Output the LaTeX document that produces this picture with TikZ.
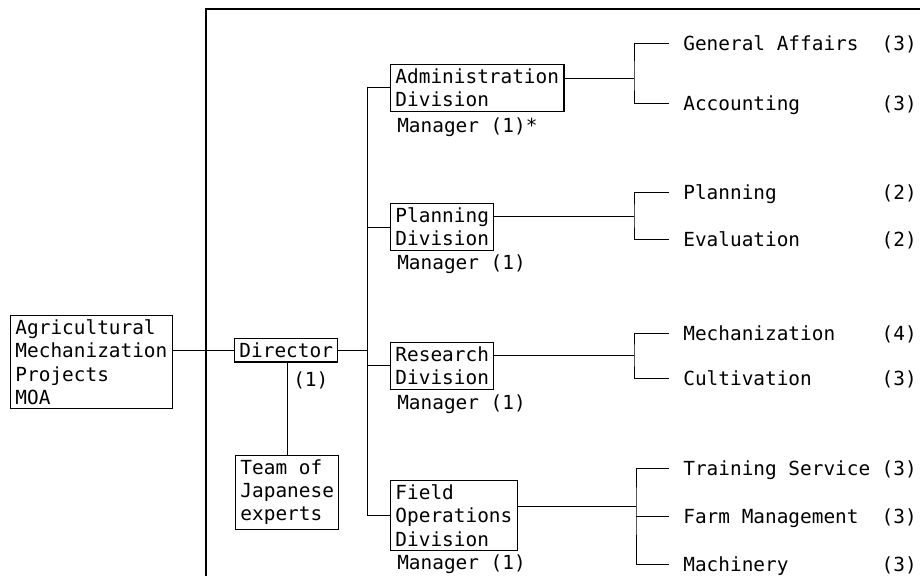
\documentclass[tikz,border=0pt]{standalone}
\usepackage{fontspec}
\newfontfamily\orgfont{DejaVu Sans Mono}
\begin{document}
\begin{tikzpicture}[x=0.025cm,y=-0.025cm,
  every node/.style={font=\orgfont\fontsize{13.8pt}{16.5pt}\selectfont},
  box/.style={draw,line width=0.8pt,align=left,anchor=north west,inner xsep=3.5pt,inner ysep=3pt},
  unit/.style={anchor=west,inner sep=0pt,text height=10pt,text depth=0pt},
  subunit/.style={unit,inner xsep=10pt},
  link/.style={line width=0.6pt}]
  \useasboundingbox (0,0) rectangle (920,576);
  % frame
  \draw[line width=1pt] (206,576) -- (206,9) -- (920,9);
  % boxes
  \node[box] (moa) at (10,315) {Agricultural\\Mechanization\\Projects\\MOA};
  \node[box] (dir) at (234,338) {Director};
  \node[unit] (dirn) at (293,379) {(1)};
  \node[box] (team) at (235,455) {Team of\\Japanese\\experts};
  \node[box] (adm) at (390,64) {Administration\\Division};
  \node[box] (pln) at (390,203) {Planning\\Division};
  \node[box] (res) at (390,342) {Research\\Division};
  \node[box] (fld) at (390,480) {Field\\Operations\\Division};
  \foreach \nm/\y/\t in {adm/125/Manager (1)*,pln/262/Manager (1),res/402/Manager (1),fld/562/Manager (1)}
    \node[unit] (\nm m) at (397,\y) {\t};
  % sections
  \foreach \nm/\y/\t/\k in {gen/43/General Affairs/3,acc/103/Accounting/3,plan/192/Planning/2,eval/239/Evaluation/2,
      mech/333/Mechanization/4,cult/378/Cultivation/3,train/468/Training Service/3,farm/516/Farm Management/3,mach/564/Machinery/3} {
    \node[subunit] (\nm) at (669,\y) {\t};
    \node[unit,anchor=east] (\nm n) at (917,\y) {(\k)};
  }
  % director links
  \draw[link] (moa.east |- dir.west) -- (dir.west);
  \draw[link] (team.north) -- (team.north |- dir.south);
  \coordinate (bus) at (367,348);
  \draw[link] (dir.east) -- (dir.east -| bus);
  \draw[link] (adm.west) -- (adm.west -| bus) -- (fld.west -| bus) -- (fld.west);
  \foreach \b in {pln,res}
    \draw[link] (\b.west) -- (\b.west -| bus);
  % forks
  \coordinate (admfork) at (634,78);
  \coordinate (plnfork) at (634,216);
  \coordinate (resfork) at (634,355);
  \coordinate (fldfork) at (636,506);
  \foreach \b/\u/\l in {adm/gen/acc,pln/plan/eval,res/mech/cult,fld/train/mach} {
    \draw[link] (\b.east |- \b fork) -- (\b fork);
    \draw[link] (\u.west) -| (\b fork) |- (\l.west);
  }
  \draw[link] (farm.west) -- (farm.west -| fldfork);
\end{tikzpicture}
\end{document}
